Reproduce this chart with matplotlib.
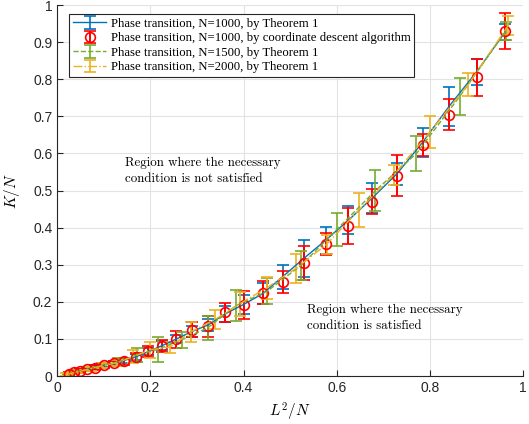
import matplotlib
matplotlib.use("Agg")
import matplotlib.pyplot as plt

plt.rcParams['mathtext.fontset'] = 'cm'

# N=1000 (Theorem 1 and coordinate descent share the same L^2/N grid)
x_1000 = [0.025, 0.036, 0.049, 0.064, 0.081, 0.100, 0.121, 0.144, 0.169, 0.196,
          0.225, 0.256, 0.289, 0.324, 0.361, 0.400, 0.441, 0.484, 0.529, 0.576,
          0.625, 0.676, 0.729, 0.784, 0.841, 0.900, 0.961]
blue_y = [0.006, 0.010, 0.014, 0.018, 0.024, 0.029, 0.035, 0.042, 0.052, 0.066,
          0.082, 0.100, 0.120, 0.138, 0.168, 0.193, 0.222, 0.268, 0.317, 0.366,
          0.420, 0.480, 0.545, 0.630, 0.727, 0.820, 0.927]
blue_err = [0.003, 0.003, 0.004, 0.004, 0.005, 0.005, 0.006, 0.007, 0.008, 0.010,
            0.012, 0.012, 0.015, 0.016, 0.022, 0.025, 0.028, 0.032, 0.050, 0.036,
            0.038, 0.040, 0.030, 0.040, 0.052, 0.035, 0.022]
red_y = [0.006, 0.010, 0.014, 0.018, 0.023, 0.029, 0.034, 0.040, 0.051, 0.067,
         0.081, 0.099, 0.125, 0.134, 0.172, 0.192, 0.225, 0.254, 0.305, 0.356,
         0.405, 0.470, 0.540, 0.622, 0.705, 0.806, 0.930]
red_err = [0.004, 0.004, 0.005, 0.005, 0.006, 0.007, 0.008, 0.010, 0.012, 0.015,
           0.016, 0.022, 0.020, 0.028, 0.025, 0.038, 0.032, 0.030, 0.045, 0.030,
           0.048, 0.033, 0.055, 0.030, 0.043, 0.050, 0.048]

# N=1500
x_1500 = [0.024, 0.043, 0.067, 0.096, 0.131, 0.171, 0.216, 0.267, 0.323, 0.384,
          0.451, 0.523, 0.600, 0.683, 0.771, 0.864, 0.963]
green_y = [0.006, 0.012, 0.019, 0.028, 0.038, 0.057, 0.072, 0.098, 0.130, 0.190,
           0.229, 0.298, 0.395, 0.500, 0.600, 0.754, 0.930]
green_err = [0.003, 0.004, 0.005, 0.007, 0.010, 0.019, 0.034, 0.022, 0.033, 0.042,
             0.035, 0.040, 0.045, 0.055, 0.048, 0.050, 0.025]

# N=2000
x_2000 = [0.018, 0.032, 0.050, 0.072, 0.098, 0.128, 0.162, 0.200, 0.242, 0.288,
          0.338, 0.392, 0.450, 0.512, 0.578, 0.648, 0.722, 0.800, 0.882, 0.968]
yellow_y = [0.004, 0.008, 0.013, 0.020, 0.028, 0.036, 0.052, 0.071, 0.078, 0.120,
            0.152, 0.195, 0.238, 0.290, 0.355, 0.448, 0.542, 0.658, 0.786, 0.945]
yellow_err = [0.003, 0.003, 0.004, 0.005, 0.006, 0.008, 0.017, 0.022, 0.015, 0.027,
              0.025, 0.032, 0.030, 0.038, 0.025, 0.045, 0.027, 0.042, 0.030, 0.025]

fig = plt.figure(figsize=(5.29, 4.24), dpi=100)
ax = fig.add_axes([0.108, 0.113, 0.881, 0.875])

ax.errorbar(x_1000, blue_y, yerr=blue_err, color='#0072BD', ls='-', lw=1.0,
            elinewidth=1.2, capsize=4, capthick=1.2,
            label='Phase transition, N=1000, by Theorem 1')
ax.errorbar(x_1000, red_y, yerr=red_err, color='#FF0000', ls='none', marker='o',
            ms=7, mfc='none', mew=1.2, elinewidth=1.4, capsize=4, capthick=1.4,
            label='Phase transition, N=1000, by coordinate descent algorithm')
ax.errorbar(x_1500, green_y, yerr=green_err, color='#77AC30', ls='--', lw=1.0,
            elinewidth=1.2, capsize=4, capthick=1.2,
            label='Phase transition, N=1500, by Theorem 1')
ax.errorbar(x_2000, yellow_y, yerr=yellow_err, color='#EDB120', ls='-.', lw=1.0,
            elinewidth=1.2, capsize=4, capthick=1.2,
            label='Phase transition, N=2000, by Theorem 1')

ax.set_xlim(0, 1)
ax.set_ylim(0, 1)
ax.set_xticks([0, 0.2, 0.4, 0.6, 0.8, 1])
ax.set_xticklabels(['0', '0.2', '0.4', '0.6', '0.8', '1'])
ax.set_yticks([i / 10 for i in range(11)])
ax.set_yticklabels(['0', '0.1', '0.2', '0.3', '0.4', '0.5', '0.6', '0.7', '0.8', '0.9', '1'])
ax.tick_params(direction='in', length=4, labelsize=10, colors='#262626')
for lab in ax.get_xticklabels() + ax.get_yticklabels():
    lab.set_family('Liberation Sans')
ax.grid(True, color='#e3e3e3', lw=0.8)
ax.set_axisbelow(True)
for s in ['top', 'right']:
    ax.spines[s].set_visible(False)
for s in ['left', 'bottom']:
    ax.spines[s].set_color('#262626')

ax.set_xlabel('$L^2/N$', fontsize=11)
ax.set_ylabel('$K/N$', fontsize=11, labelpad=8)

ax.text(0.146, 0.553, 'Region where the necessary\ncondition is not satisfied',
        family='cmr10', fontsize=9.3, va='center', ha='left', linespacing=1.45)
ax.text(0.537, 0.156, 'Region where the necessary\ncondition is satisfied',
        family='cmr10', fontsize=9.3, va='center', ha='left', linespacing=1.45)

leg = ax.legend(loc='upper left', bbox_to_anchor=(0.026, 0.976),
                prop={'family': 'Liberation Serif', 'size': 9.2},
                frameon=True, fancybox=False, edgecolor='#262626', framealpha=1,
                borderpad=0.3, labelspacing=0.2, handlelength=2.6, handletextpad=0.35,
                borderaxespad=0)
leg.get_frame().set_linewidth(0.8)

fig.savefig('out.png', dpi=100)
